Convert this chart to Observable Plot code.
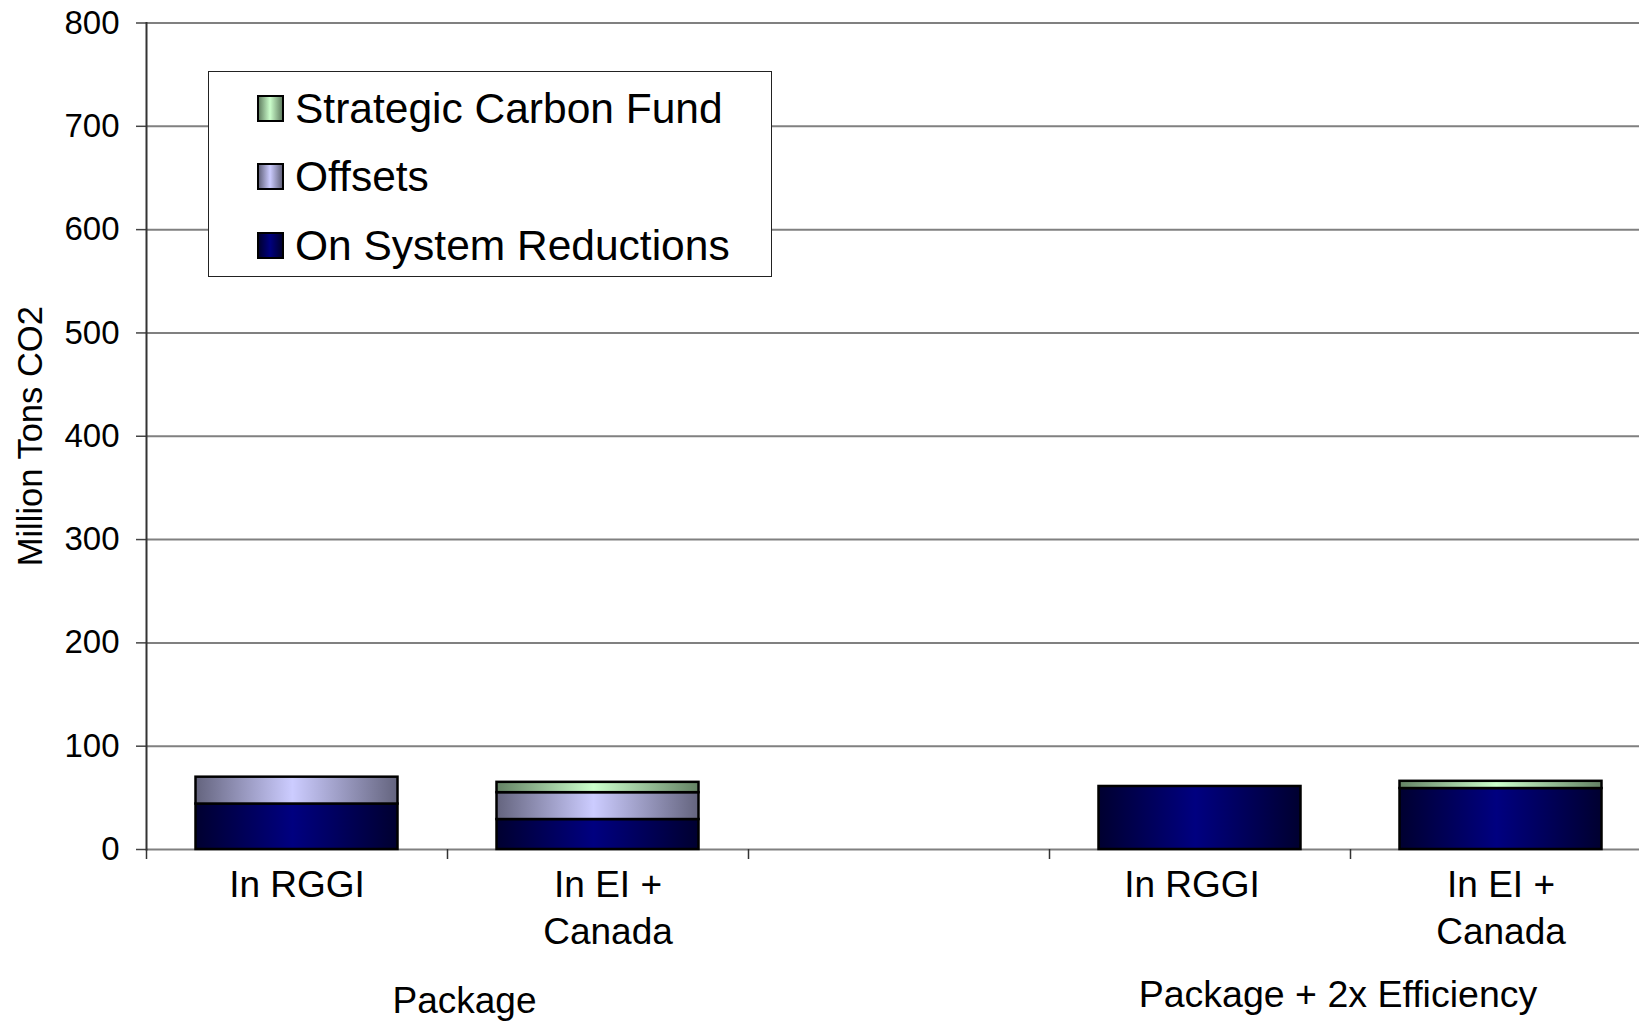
<!DOCTYPE html>
<html>
<head>
<meta charset="utf-8">
<script src="https://cdn.jsdelivr.net/npm/d3@7"></script>
<script src="https://cdn.jsdelivr.net/npm/@observablehq/plot@0.6"></script>
<style>
  html, body { margin: 0; padding: 0; background: #fff; overflow: hidden; }
  #wrap { position: relative; width: 1639px; height: 1024px; overflow: hidden; }
  #wrap svg { max-width: none !important; width: 1651px; height: 1024px; }
  #legend {
    position: absolute; left: 208px; top: 71px; width: 564px; height: 206px;
    box-sizing: border-box; border: 1px solid #222; background: #fff;
    font-family: "Liberation Sans", Arial, sans-serif; font-size: 42.5px; line-height: 42px; color: #000;
  }
  .row { position: absolute; left: 0; height: 42px; width: 100%; }
  .sw { position: absolute; left: 48px; top: 7px; width: 27px; height: 27px; box-sizing: border-box; border: 2px solid #000; }
  .lbl { position: absolute; left: 86px; top: 0; white-space: nowrap; }
</style>
</head>
<body>
<div id="wrap"></div>
<script>
// ---- data ----
const categoryKeys = ["pkg-rggi", "pkg-ei", "gap", "eff-rggi", "eff-ei"];
const categoryLabels = ["In RGGI", "In EI +\nCanada", "", "In RGGI", "In EI +\nCanada"];
const seriesNames = ["On System Reductions", "Offsets", "Strategic Carbon Fund"];
const onSystemReductions = [44, 29, null, 61, 59];
const offsetsValues = [26, 26, null, 0, 0];
const strategicCarbonFund = [0, 10, null, 0, 7];
const yTicks = [0, 100, 200, 300, 400, 500, 600, 700, 800];
const groupLabels = ["Package", "Package + 2x Efficiency"];
const groupAnchorKeys = ["pkg-ei", "eff-ei"];
const yLabel = "Million Tons CO2";
const legendOrder = ["Strategic Carbon Fund", "Offsets", "On System Reductions"];

// ---- styles ----
const lightColors = ["#000080", "#CCCCFF", "#CCFFCC"];
const darkColors = ["#000030", "#64647e", "#648264"];
const labelNudges = [0, 10, 0, -8, 0];

const seriesArrays = [onSystemReductions, offsetsValues, strategicCarbonFund];
const rows = [];
categoryKeys.forEach((k, i) => {
  seriesArrays.forEach((arr, s) => {
    if (arr[i] != null && arr[i] > 0) rows.push({key: k, series: seriesNames[s], value: arr[i]});
  });
});

const font = "'Liberation Sans', Arial, sans-serif";
const step = 301;

const labelMarks = categoryKeys.map((k, i) =>
  Plot.text([k], {x: d => d, text: () => categoryLabels[i], frameAnchor: "bottom", lineAnchor: "top",
    dx: labelNudges[i], dy: 15, fontSize: 37, lineHeight: 1.25, fill: "#000"}));

const plot = Plot.plot({
  width: 1651,
  height: 1024,
  marginLeft: 146,
  marginRight: 0,
  marginTop: 22.5,
  marginBottom: 175,
  style: {fontFamily: font, background: "white", overflow: "visible", color: "#000", maxWidth: "none"},
  x: {type: "band", domain: categoryKeys, padding: 0, axis: null},
  y: {domain: [0, 800], axis: null},
  color: {type: "ordinal", domain: seriesNames, range: seriesNames.map((_, i) => `url(#grad${i})`)},
  marks: [
    Plot.gridY(yTicks.filter(t => t > 0), {stroke: "#808080", strokeOpacity: 1, strokeWidth: 2}),
    Plot.ruleY([0], {stroke: "#808080", strokeWidth: 2}),
    Plot.axisX({tickSize: 10, fill: "none", label: null, dx: -step / 2, stroke: "#333", strokeWidth: 1.5}),
    Plot.barY(rows, {x: "key", y: "value", fill: "series", stroke: "#000", strokeWidth: 2.5, insetLeft: 49.5, insetRight: 49.5}),
    Plot.axisY({ticks: yTicks, tickSize: 10, tickPadding: 17, fontSize: 33, label: null, stroke: "#444", strokeWidth: 1.5}),
    Plot.frame({anchor: "left", stroke: "#333", strokeWidth: 2}),
    ...labelMarks,
    Plot.text([groupLabels[0]], {x: () => groupAnchorKeys[0], text: d => d, frameAnchor: "bottom", lineAnchor: "top", dx: -133.5, dy: 137.5, fontSize: 37, fill: "#000"}),
    Plot.text([groupLabels[1]], {x: () => groupAnchorKeys[1], text: d => d, frameAnchor: "bottom", lineAnchor: "top", dx: -163, dy: 131, fontSize: 37.5, fill: "#000"}),
    Plot.text([yLabel], {frameAnchor: "left", rotate: -90, lineAnchor: "bottom", textAnchor: "middle", dx: -105, fontSize: 34.5, fill: "#000"})
  ]
});

// gradients
const svg = d3.select(plot);
const defs = svg.insert("defs", ":first-child");
lightColors.forEach((c, i) => {
  const g = defs.append("linearGradient").attr("id", `grad${i}`)
    .attr("x1", "0").attr("x2", "1").attr("y1", "0").attr("y2", "0");
  g.append("stop").attr("offset", "0%").attr("stop-color", darkColors[i]);
  g.append("stop").attr("offset", "48%").attr("stop-color", c);
  g.append("stop").attr("offset", "100%").attr("stop-color", darkColors[i]);
});
plot.style.maxWidth = "none";

const wrap = document.getElementById("wrap");
wrap.appendChild(plot);

// legend
const legend = document.createElement("div");
legend.id = "legend";
const rowTops = [15.5, 84, 152.5];
legendOrder.forEach((name, j) => {
  const i = seriesNames.indexOf(name);
  const row = document.createElement("div");
  row.className = "row";
  row.style.top = rowTops[j] + "px";
  const sw = document.createElement("span");
  sw.className = "sw";
  sw.style.background = `linear-gradient(to right, ${darkColors[i]}, ${lightColors[i]} 48%, ${darkColors[i]})`;
  const lbl = document.createElement("span");
  lbl.className = "lbl";
  lbl.textContent = name;
  row.appendChild(sw);
  row.appendChild(lbl);
  legend.appendChild(row);
});
wrap.appendChild(legend);
</script>
</body>
</html>
